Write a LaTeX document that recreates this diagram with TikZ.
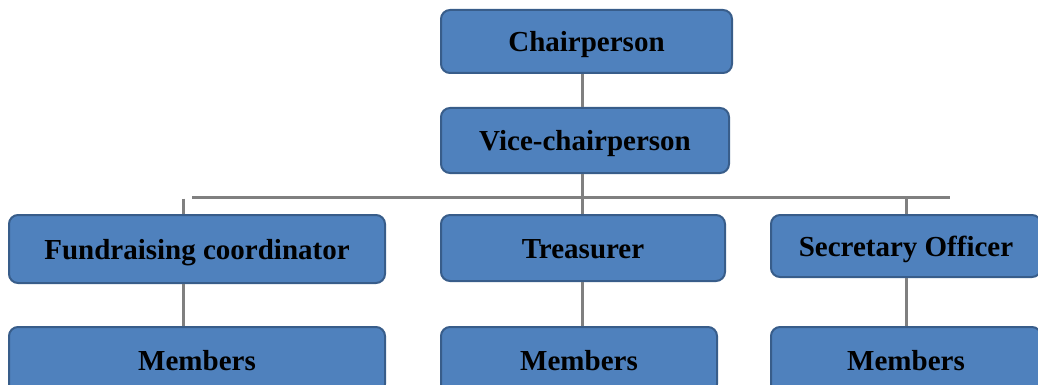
\documentclass[tikz,border=0pt]{standalone}
\usepackage{fontspec}
\setmainfont{Liberation Serif}
\definecolor{boxfill}{HTML}{4F81BD}
\definecolor{boxline}{HTML}{385D8A}
\definecolor{conn}{HTML}{808080}
\begin{document}
\begin{tikzpicture}[x=1pt,y=-1pt,
  box/.style={draw=boxline, line width=2pt, fill=boxfill, rounded corners=9pt,
    font=\bfseries\fontsize{29}{34}\selectfont, text=black, inner sep=0pt,
    text height=20pt, text depth=0pt},
  link/.style={draw=conn, line width=3pt}]
\useasboundingbox (0,0) rectangle (1038,385);
\clip (0,0) rectangle (1038,385);
\node[box, minimum width=291pt, minimum height=63pt] (chair) at (586.5,41.5) {Chairperson};
\node[box, minimum width=288pt, minimum height=65pt] (vice) at (585,140.5) {Vice-chairperson};
\node[box, minimum width=376pt, minimum height=68pt] (fund) at (197,249) {Fundraising coordinator};
\node[box, minimum width=284pt, minimum height=66pt] (treas) at (583,248) {Treasurer};
\node[box, minimum width=270pt, minimum height=62pt] (sec) at (906,246) {Secretary Officer};
\node[box, minimum width=376pt, minimum height=66pt] (mem1) at (197,360) {Members};
\node[box, minimum width=276pt, minimum height=66pt] (mem2) at (579,360) {Members};
\node[box, minimum width=270pt, minimum height=66pt] (mem3) at (906,360) {Members};
\coordinate (spine) at (582,197);
\coordinate (barL) at (192,197);
\coordinate (barR) at (950,197);
\coordinate (fundTop) at (183,198.5);
\coordinate (secTop) at (906,197);
\draw[link] (spine |- chair.south) -- (spine |- vice.north);
\draw[link] (spine |- vice.south) -- (spine);
\draw[link] (barL) -- (barR);
\draw[link] (fundTop) -- (fundTop |- fund.north);
\draw[link] (spine) -- (spine |- treas.north);
\draw[link] (secTop) -- (secTop |- sec.north);
\draw[link] (fundTop |- fund.south) -- (fundTop |- mem1.north);
\draw[link] (spine |- treas.south) -- (spine |- mem2.north);
\draw[link] (secTop |- sec.south) -- (secTop |- mem3.north);
\end{tikzpicture}
\end{document}
